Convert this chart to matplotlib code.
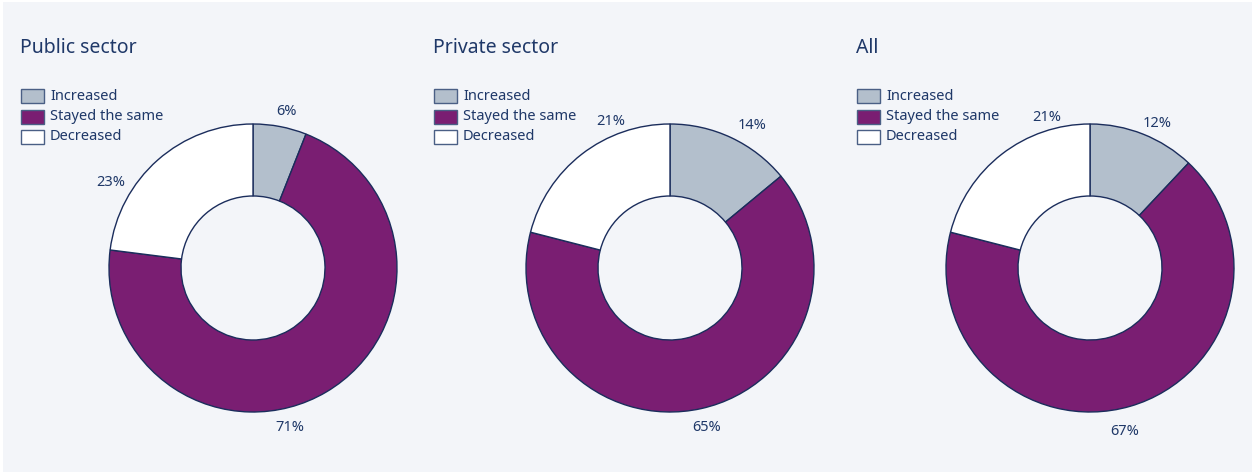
import numpy as np
import matplotlib.pyplot as plt
from matplotlib.patches import Rectangle

plt.rcParams['font.family'] = ['Noto Sans', 'DejaVu Sans']

titles = ['Public sector', 'Private sector', 'All']
categories = ['Increased', 'Stayed the same', 'Decreased']
public = [6, 71, 23]
private = [14, 65, 21]
everyone = [12, 67, 21]
series = [public, private, everyone]

colors = ['#b3bfcc', '#7a1e72', '#ffffff']
edge = '#1b2d5c'
text_col = '#1f3868'

# label placement: angle clockwise from 12 o'clock (deg), radius relative to outer ring
label_pos = [
    [(12, 1.11), (167, 1.14), (301, 1.15)],
    [(30, 1.14), (167, 1.14), (338, 1.10)],
    [(25, 1.11), (168, 1.16), (344, 1.09)],
]

W, H = 1255, 474
fig = plt.figure(figsize=(W / 100, H / 100), dpi=100)
fig.patch.set_facecolor('white')
fig.patches.append(Rectangle((3 / W, 2 / H), 1249 / W, 470 / H, transform=fig.transFigure,
                             facecolor='#f3f5f9', edgecolor='none', zorder=-1))

centers = [253, 670, 1090]
left_x = [20, 433, 856]
cy = 268
R = 144
span = 1.3

for i in range(3):
    size = 2 * span * R
    ax = fig.add_axes([(centers[i] - size / 2) / W, (H - cy - size / 2) / H, size / W, size / H])
    ax.pie(series[i], colors=colors, startangle=90, counterclock=False, radius=1,
           wedgeprops=dict(width=0.5, edgecolor=edge, linewidth=1))
    ax.set_xlim(-span, span)
    ax.set_ylim(-span, span)
    ax.set_aspect('equal')
    ax.axis('off')
    for v, (ang, r) in zip(series[i], label_pos[i]):
        a = np.deg2rad(ang)
        ax.text(r * np.sin(a), r * np.cos(a), f'{v}%', ha='center', va='center',
                fontsize=10.5, color=text_col)

    fig.text(left_x[i] / W, 1 - 48 / H, titles[i], fontsize=14, color=text_col,
             ha='left', va='center')
    for k, cat in enumerate(categories):
        y = 96 + k * 20.5
        fig.patches.append(Rectangle(((left_x[i] + 1) / W, (H - y - 7) / H), 23 / W, 14 / H,
                                     transform=fig.transFigure, facecolor=colors[k],
                                     edgecolor='#4a5f85', linewidth=1, zorder=2))
        fig.text((left_x[i] + 30) / W, 1 - y / H, cat, fontsize=10.5, color=text_col,
                 ha='left', va='center')

fig.savefig('out.png', dpi=100)
